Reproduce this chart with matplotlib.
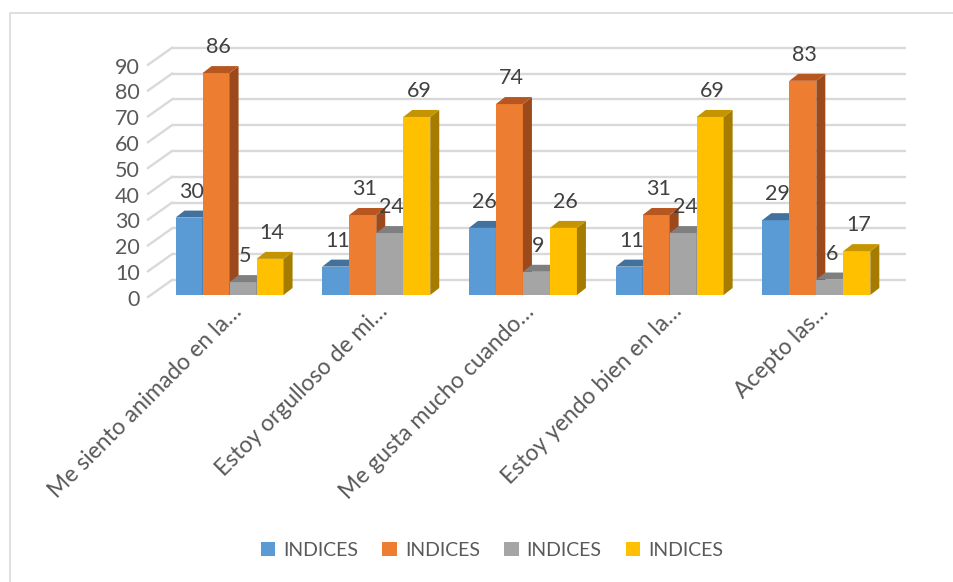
import matplotlib
matplotlib.use("Agg")
import matplotlib.pyplot as plt
from matplotlib.patches import Polygon, Patch
from matplotlib.lines import Line2D
import numpy as np

# ---------------- data ----------------
categories = ["Me siento animado en la…", "Estoy orgulloso de mi…",
              "Me gusta mucho cuando…", "Estoy yendo bien en la…", "Acepto las…"]
series_names = ["INDICES", "INDICES", "INDICES", "INDICES"]
s1 = [30, 11, 26, 11, 29]
s2 = [86, 31, 74, 31, 83]
s3 = [5, 24, 9, 24, 6]
s4 = [14, 69, 26, 69, 17]
series = [s1, s2, s3, s4]
yticks = [0, 10, 20, 30, 40, 50, 60, 70, 80, 90]

# ---------------- style ----------------
front_cols = ["#5B9BD5", "#ED7D31", "#A5A5A5", "#FFC000"]
top_cols = ["#41719C", "#B8561F", "#7F7F7F", "#C49500"]
side_cols = ["#3A6690", "#9C4A1C", "#767676", "#A67C00"]
grid_col = "#D9D9D9"
text_col = "#404040"
FONT = ["Lato", "DejaVu Sans"]
plt.rcParams['font.family'] = FONT

W, H = 954, 582
fig = plt.figure(figsize=(W / 100, H / 100), dpi=100)

px_left, px_right, px_zero, px_top = 148, 908, 297, 40
ax = fig.add_axes([px_left / W, (H - px_zero) / H,
                   (px_right - px_left) / W, (px_zero - px_top) / H])
ymax = 99.6
xmin, xmax = -0.556, 4.625
ax.set_xlim(xmin, xmax)
ax.set_ylim(0, ymax)
ax.axis("off")

# pixel -> data factors
ppx = (px_right - px_left) / (xmax - xmin)
ppy = (px_zero - px_top) / ymax
DX, DY = 24 / ppx, 17 / ppy       # wall depth
bdx, bdy = 9 / ppx, 7 / ppy       # bar depth
bw = 27 / ppx                     # bar width
base = 2 / ppy                    # bars sit slightly behind front edge

# gridlines: back wall + diagonal on left wall
for v in yticks:
    ax.plot([xmin + DX, xmax - 2 / ppx], [v + DY, v + DY], color=grid_col, lw=1.7,
            solid_capstyle="butt", zorder=1, clip_on=False)
    ax.plot([xmin, xmin + DX], [v, v + DY], color=grid_col, lw=1.7, zorder=1, clip_on=False)
    ax.annotate(str(v), (xmin, v), xytext=(-6, -2), textcoords="offset points",
                ha="right", va="center", fontsize=15.5, color="#595959",
                annotation_clip=False)

x = np.arange(len(categories))
z = 2
for j, vals in enumerate(series):
    xs = x + (j - 2) * bw
    for xi, v in zip(xs, vals):
        # front
        ax.bar(xi, v, width=bw, bottom=base, align="edge", color=front_cols[j],
               zorder=z, linewidth=0)
        # side
        ax.add_patch(Polygon([(xi + bw, base), (xi + bw + bdx, base + bdy),
                              (xi + bw + bdx, base + v + bdy), (xi + bw, base + v)],
                             closed=True, facecolor=side_cols[j], lw=0, zorder=z))
        # top
        ax.add_patch(Polygon([(xi, base + v), (xi + bdx, base + v + bdy),
                              (xi + bw + bdx, base + v + bdy), (xi + bw, base + v)],
                             closed=True, facecolor=top_cols[j], lw=0, zorder=z))
        ax.annotate(str(v), (xi + bw / 2, base + v), xytext=(1.5, 18.7),
                    textcoords="offset points", ha="center", va="center",
                    fontsize=15.5, color=text_col, zorder=10)
        z += 1

# category labels
for xi, lab in zip(x, categories):
    ax.annotate(lab, (xi, 0), xytext=(6, -8), textcoords="offset points",
                rotation=45, rotation_mode="anchor", ha="right", va="center",
                fontsize=16.5, color="#595959", annotation_clip=False)

# legend
handles = [Patch(facecolor=c, edgecolor="none") for c in front_cols]
fig.legend(handles, series_names, loc="center", bbox_to_anchor=(492 / W, (H - 550) / H),
           ncol=4, frameon=False, fontsize=14, handlelength=0.75, handleheight=0.75,
           handletextpad=0.4, columnspacing=1.25, labelcolor="#595959")

# chart border (only top/left visible)
fig.add_artist(Line2D([10 / W, 10 / W, 1], [0, 1 - 13 / H, 1 - 13 / H],
                      transform=fig.transFigure, color="#D9D9D9", lw=1.2))

fig.savefig("out.png", dpi=100)
